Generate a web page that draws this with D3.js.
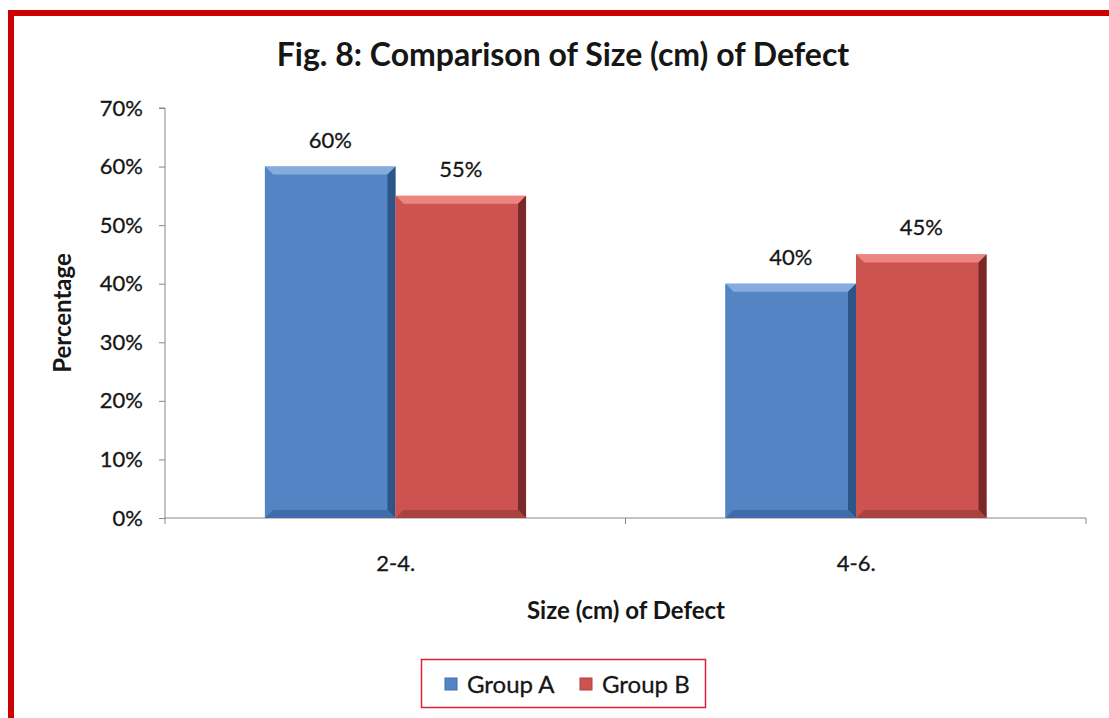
<!DOCTYPE html>
<html>
<head>
<meta charset="utf-8">
<script src="https://cdn.jsdelivr.net/npm/d3@7"></script>
<style>
  html, body { margin: 0; padding: 0; background: #ffffff; }
  svg { display: block; font-family: Lato, "Open Sans", sans-serif; }
</style>
</head>
<body>
<svg id="chart" width="1109" height="718"></svg>
<script>
const categories = ["2-4.", "4-6."];
const groups = ["Group A", "Group B"];
const groupA = [0.60, 0.40];
const groupB = [0.55, 0.45];
const yTicks = [0, 0.1, 0.2, 0.3, 0.4, 0.5, 0.6, 0.7];
const title = "Fig. 8: Comparison of Size (cm) of Defect";
const xTitle = "Size (cm) of Defect";
const yTitle = "Percentage";

(function () {
const colors = {
  "Group A": {base: "#5384C4", light: "#86ABDE", dark: "#274C7C", mid: "#3F6DA8"},
  "Group B": {base: "#CD5350", light: "#EC8481", dark: "#6A2220", mid: "#A84340"}
};
const txt = "#161616";

const svg = d3.select("#chart");

// red frame
svg.append("rect").attr("x", 11).attr("y", 13).attr("width", 1200).attr("height", 800)
  .attr("fill", "none").attr("stroke", "#CC0000").attr("stroke-width", 6);

const pL = 165, pR = 1086, pT = 108, pB = 518;
const x0 = d3.scaleBand().domain(categories).range([pL, pR]).padding(0);
const bw = x0.bandwidth();
const x1 = d3.scaleBand().domain(groups).range([bw * 0.217, bw * 0.784]).padding(0);
const y = d3.scaleLinear().domain([0, 0.7]).range([pB, pT]);

// title
svg.append("text").attr("x", 563).attr("y", 66).attr("text-anchor", "middle")
  .attr("font-size", 32).attr("font-weight", "bold").attr("fill", txt)
  .text(title);

// axes
const axisColor = "#868686";
const yAxis = svg.append("g").attr("transform", `translate(${pL},0)`)
  .call(d3.axisLeft(y).tickValues(yTicks).tickFormat(d3.format(".0%")).tickSize(6).tickPadding(16));
yAxis.select(".domain").attr("stroke", axisColor).attr("d", `M-6,${pT}H0V${pB}`);
yAxis.selectAll(".tick line").attr("stroke", axisColor);
yAxis.selectAll(".tick text").attr("font-size", 22).attr("fill", txt)
  .attr("stroke", txt).attr("stroke-width", 0.3).attr("font-family", "Lato, sans-serif");

const bounds = [pL].concat(categories.map(c => x0(c) + bw));
const xg = svg.append("g");
xg.append("line").attr("x1", pL).attr("x2", pR).attr("y1", pB).attr("y2", pB).attr("stroke", axisColor);
xg.selectAll(".xt").data(bounds).join("line")
  .attr("x1", d => d).attr("x2", d => d).attr("y1", pB).attr("y2", pB + 6).attr("stroke", axisColor);
xg.selectAll(".xl").data(categories).join("text")
  .attr("x", d => x0(d) + bw / 2 + 0.5).attr("y", pB + 53).attr("text-anchor", "middle")
  .attr("font-size", 22).attr("fill", txt).attr("stroke", txt).attr("stroke-width", 0.3).text(d => d);

// bars
const data = [];
categories.forEach((c, i) => {
  data.push({cat: c, grp: "Group A", v: groupA[i]});
  data.push({cat: c, grp: "Group B", v: groupB[i]});
});
const b = 8; // bevel size
const barG = svg.append("g");
data.forEach(d => {
  const xL = x0(d.cat) + x1(d.grp), w = x1.bandwidth();
  const xR = xL + w, yT = y(d.v), yB = y(0);
  const c = colors[d.grp];
  const g = barG.append("g");
  g.append("rect").attr("x", xL).attr("y", yT).attr("width", w).attr("height", yB - yT).attr("fill", c.base);
  g.append("path").attr("d", `M${xL},${yT}L${xR},${yT}L${xR - b},${yT + b}L${xL + b},${yT + b}Z`).attr("fill", c.light);
  g.append("path").attr("d", `M${xL},${yT}L${xL + b},${yT + b}L${xL + b},${yB - b}L${xL},${yB}Z`).attr("fill", c.base).attr("opacity", 0.9);
  g.append("path").attr("d", `M${xR},${yT}L${xR},${yB}L${xR - b},${yB - b}L${xR - b},${yT + b}Z`).attr("fill", c.dark).attr("opacity", 0.85);
  g.append("path").attr("d", `M${xL},${yB}L${xR},${yB}L${xR - b},${yB - b}L${xL + b},${yB - b}Z`).attr("fill", c.mid);
  g.append("text").attr("x", xL + w / 2).attr("y", yT - 19).attr("text-anchor", "middle")
    .attr("font-size", 22).attr("fill", txt).attr("stroke", txt).attr("stroke-width", 0.3)
    .text(d3.format(".0%")(d.v));
});

// axis titles
svg.append("text").attr("x", 626).attr("y", 619).attr("text-anchor", "middle")
  .attr("font-size", 24).attr("font-weight", "bold").attr("fill", txt).text(xTitle);
svg.append("text").attr("transform", "translate(71,313) rotate(-90)").attr("text-anchor", "middle")
  .attr("font-size", 24).attr("font-weight", "bold").attr("fill", txt).text(yTitle);

// legend
const lg = svg.append("g");
lg.append("rect").attr("x", 421.5).attr("y", 659.5).attr("width", 284).attr("height", 48)
  .attr("fill", "#fff").attr("stroke", "#E0203A").attr("stroke-width", 1.5);
const legX = [445, 580];
groups.forEach((gname, i) => {
  lg.append("rect").attr("x", legX[i]).attr("y", 678).attr("width", 12).attr("height", 12)
    .attr("fill", colors[gname].base).attr("stroke", colors[gname].mid).attr("stroke-width", 1);
  lg.append("text").attr("x", legX[i] + 22).attr("y", 693).attr("font-size", 24)
    .attr("fill", txt).attr("stroke", txt).attr("stroke-width", 0.3).text(gname);
});
})();
</script>
</body>
</html>
